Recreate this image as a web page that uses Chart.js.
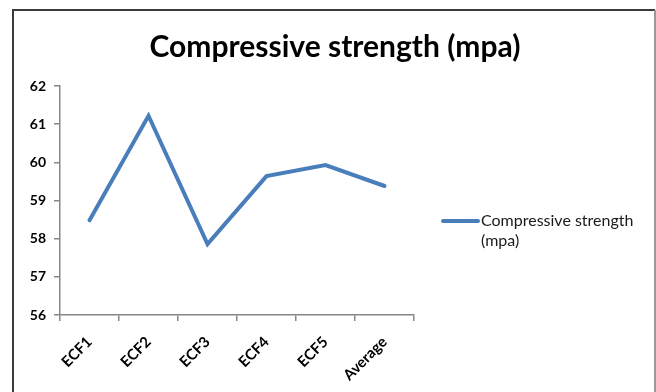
<!DOCTYPE html>
<html>
<head>
<meta charset="utf-8">
<script src="https://cdn.jsdelivr.net/npm/chart.js@4/dist/chart.umd.min.js"></script>
<style>
  html, body { margin: 0; padding: 0; background: #fff; }
  #wrap { position: relative; width: 656px; height: 392px; }
</style>
</head>
<body>
<div id="wrap"><canvas id="c" width="656" height="392"></canvas></div>
<script>
// Compressive strength per mix, plus their average
const categories = ['ECF1', 'ECF2', 'ECF3', 'ECF4', 'ECF5', 'Average'];
const strengthValues = [58.48, 61.22, 57.86, 59.64, 59.93, 59.38];
const chartTitle = 'Compressive strength (mpa)';
const seriesLabel = ['Compressive strength', '(mpa)'];
const yMin = 56;
const yMax = 62;
const yStep = 1;

const FONT = 'Lato, "Open Sans", sans-serif';
const LINE_COLOR = '#4A7EBB';
const AXIS_COLOR = '#868686';

// Outer chart frame and the title centred over the whole frame
const framePlugin = {
  id: 'frame',
  beforeDraw(chart) {
    const ctx = chart.ctx;
    ctx.save();
    ctx.fillStyle = '#fff';
    ctx.fillRect(0, 0, chart.width, chart.height);
    ctx.lineWidth = 2;
    ctx.strokeStyle = '#3a3a3a';
    ctx.beginPath();
    ctx.moveTo(13, chart.height + 2);
    ctx.lineTo(13, 10);
    ctx.lineTo(655, 10);
    ctx.stroke();
    ctx.strokeStyle = '#9a9a9a';
    ctx.beginPath();
    ctx.moveTo(655, 10);
    ctx.lineTo(655, chart.height + 2);
    ctx.stroke();

    ctx.fillStyle = '#000';
    ctx.font = 'bold 30px ' + FONT;
    ctx.textAlign = 'center';
    ctx.textBaseline = 'middle';
    ctx.fillText(chartTitle, 335, 47);
    ctx.restore();
  }
};

// Legend at the right with a wrapped two-line label
const sideLegend = {
  id: 'sideLegend',
  afterDraw(chart) {
    const ds = chart.data.datasets[0];
    const ctx = chart.ctx;
    const x0 = 441, x1 = 478, y = 221;
    ctx.save();
    ctx.strokeStyle = ds.borderColor;
    ctx.lineWidth = 4;
    ctx.lineCap = 'round';
    ctx.beginPath();
    ctx.moveTo(x0 + 2, y);
    ctx.lineTo(x1, y);
    ctx.stroke();
    ctx.fillStyle = '#1a1a1a';
    ctx.font = '16px ' + FONT;
    ctx.textBaseline = 'middle';
    ctx.textAlign = 'left';
    ds.labelLines.forEach((t, i) => ctx.fillText(t, 481, y + i * 20));
    ctx.restore();
  }
};

new Chart(document.getElementById('c'), {
  type: 'line',
  data: {
    labels: categories,
    datasets: [{
      label: seriesLabel.join(' '),
      labelLines: seriesLabel,
      data: strengthValues,
      borderColor: LINE_COLOR,
      backgroundColor: LINE_COLOR,
      borderWidth: 4,
      borderJoinStyle: 'miter',
      borderCapStyle: 'round',
      pointRadius: 0,
      tension: 0,
      fill: false
    }]
  },
  options: {
    responsive: false,
    animation: false,
    layout: { padding: { left: 14, right: 242, top: 86, bottom: 0 } },
    plugins: {
      legend: { display: false },
      tooltip: { enabled: false },
      title: { display: false }
    },
    scales: {
      x: {
        type: 'category',
        offset: true,
        grid: { offset: true, drawOnChartArea: false, drawTicks: true, tickLength: 6, color: AXIS_COLOR, lineWidth: 1.5 },
        border: { color: AXIS_COLOR, width: 1.5 },
        ticks: {
          color: '#000',
          font: { family: FONT, size: 15, weight: 'bold' },
          minRotation: 45,
          maxRotation: 45,
          padding: 12
        },
        afterFit(s) { s.height = 77; }
      },
      y: {
        min: yMin,
        max: yMax,
        grid: { drawOnChartArea: false, drawTicks: true, tickLength: 6, color: AXIS_COLOR, lineWidth: 1.5 },
        border: { color: AXIS_COLOR, width: 1.5 },
        ticks: {
          stepSize: yStep,
          color: '#000',
          font: { family: FONT, size: 14, weight: 'bold' },
          padding: 8
        },
        afterFit(s) { s.width = 46; }
      }
    }
  },
  plugins: [framePlugin, sideLegend]
});
</script>
</body>
</html>
